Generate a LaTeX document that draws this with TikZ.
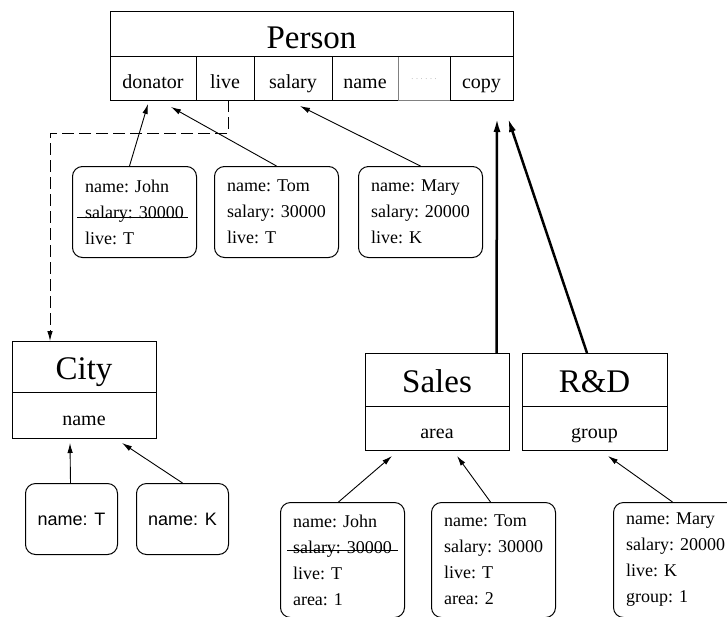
\documentclass[tikz,border=0pt]{standalone}
\usepackage{fontspec}
\setmainfont{Liberation Serif}
\newfontfamily\helv{Liberation Sans}
\usetikzlibrary{positioning,calc,arrows.meta}

\begin{document}
\begin{tikzpicture}[x=1pt, y=-1pt,
    head/.style={draw, line width=1pt, anchor=north west, inner sep=0pt, outer sep=0pt,
        minimum height=51pt, text height=26pt, text depth=0pt, font=\fontsize{33}{36}\selectfont},
    cell/.style={draw, line width=1pt, anchor=north west, inner sep=0pt, outer sep=0pt,
        minimum height=44pt, text height=21pt, text depth=0pt, font=\fontsize{20}{24}\selectfont},
    obj/.style={draw, line width=1pt, rounded corners=10pt, anchor=north west, inner sep=0pt,
        minimum width=124pt, minimum height=91pt, align=left, font=\fontsize{18}{26}\selectfont},
    link/.style={line width=0.9pt, -{Latex[length=10pt,width=5.5pt]}},
    link thick/.style={line width=2.5pt, -{Latex[length=14pt,width=7pt]}},
    link dashed/.style={link, dash pattern=on 12pt off 5pt}
]
    \clip (0,0) rectangle (727,616);

    % Person class
    \node[cell, minimum width=86pt] (donator) at (110,56) {donator};
    \node[cell, minimum width=58pt, right=0pt of donator.north east, anchor=north west] (live) {live};
    \node[cell, minimum width=78pt, right=0pt of live.north east, anchor=north west] (salary) {salary};
    \node[cell, minimum width=66pt, right=0pt of salary.north east, anchor=north west] (name) {name};
    \node[cell, minimum width=52pt, draw=gray, text=gray!70, right=0pt of name.north east, anchor=north west] (dots) {\raisebox{9pt}{\fontsize{8}{8}\selectfont . . . . . .}};
    \node[cell, minimum width=63pt, right=0pt of dots.north east, anchor=north west] (copy) {copy};
    \node[head, minimum width=403pt, minimum height=45pt, text height=29pt] (person) at (110,11) {Person};

    % City class
    \node[head, minimum width=144pt] (city) at (12,341) {City};
    \node[cell, minimum width=144pt, minimum height=46pt] (cityname) at (12,392) {name};

    % Sales and R&D classes
    \node[head, minimum width=144pt, minimum height=53pt] (sales) at (365,353) {Sales};
    \node[cell, minimum width=144pt] (area) at (365,406) {area};
    \node[head, minimum width=145pt, minimum height=53pt] (rd) at (522,353) {R\&D};
    \node[cell, minimum width=145pt] (group) at (522,406) {group};

    % Person objects
    \node[obj] (john1) at (72,166) {name: John\\salary: 30000\\live: T};
    \node[obj] (tom1) at (214,166) {name: Tom\\salary: 30000\\live: T};
    \node[obj] (mary1) at (358,166) {name: Mary\\salary: 20000\\live: K};

    % City objects
    \node[obj, minimum width=92pt, minimum height=71pt, font=\helv\fontsize{18}{22}\selectfont] (cityT) at (25,483) {name: T};
    \node[obj, minimum width=92pt, minimum height=71pt, font=\helv\fontsize{18}{22}\selectfont] (cityK) at (136,483) {name: K};

    % Sales and R&D objects
    \node[obj, minimum height=115pt] (john2) at (280,502) {name: John\\salary: 30000\\live: T\\area: 1};
    \node[obj, minimum height=115pt] (tom2) at (431,502) {name: Tom\\salary: 30000\\live: T\\area: 2};
    \node[obj, minimum height=115pt] (mary2) at (613,502) {name: Mary\\salary: 20000\\live: K\\group: 1};

    % struck out salaries
    \draw[line width=0.9pt] ($(john1.north west)+(5,51)$) -- ($(john1.north west)+(116,51)$);
    \draw[line width=0.9pt] ($(john2.north west)+(7,48)$) -- ($(john2.north west)+(118,48)$);

    % instance links
    \draw[link] ($(john1.north)+(-5,0)$) -- ($(donator.south)+(-5,4)$);
    \draw[link] (tom1.north) -- ($(donator.south)+(18,7)$);
    \draw[link] (mary1.north) -- ($(salary.south)+(7,6)$);
    \draw[link] ($(cityT.north)+(-1,0)$) -- ($(cityname.south)+(-14,5)$);
    \draw[link] (cityK.north) -- ($(cityname.south)+(38,5)$);
    \draw[link] ($(john2.north)+(-4,0)$) -- ($(area.south)+(-45,6)$);
    \draw[link] ($(tom2.north)+(-3,0)$) -- ($(area.south)+(20,6)$);
    \draw[link] ($(mary2.north)+(-3,0)$) -- ($(group.south)+(13.5,6)$);

    % live refers to City
    \coordinate (bend) at (50,133);
    \draw[link dashed] ($(live.south)+(3,0)$) |- (bend) -- ($(city.north west)+(38,0)$);

    % subclasses
    \draw[link thick] ($(sales.north)+(59.5,0)$) -- ($(copy.south)+(15.5,18)$);
    \draw[link thick] ($(rd.north)+(-7.5,0)$) -- ($(copy.south)+(26.5,18)$);
\end{tikzpicture}
\end{document}
